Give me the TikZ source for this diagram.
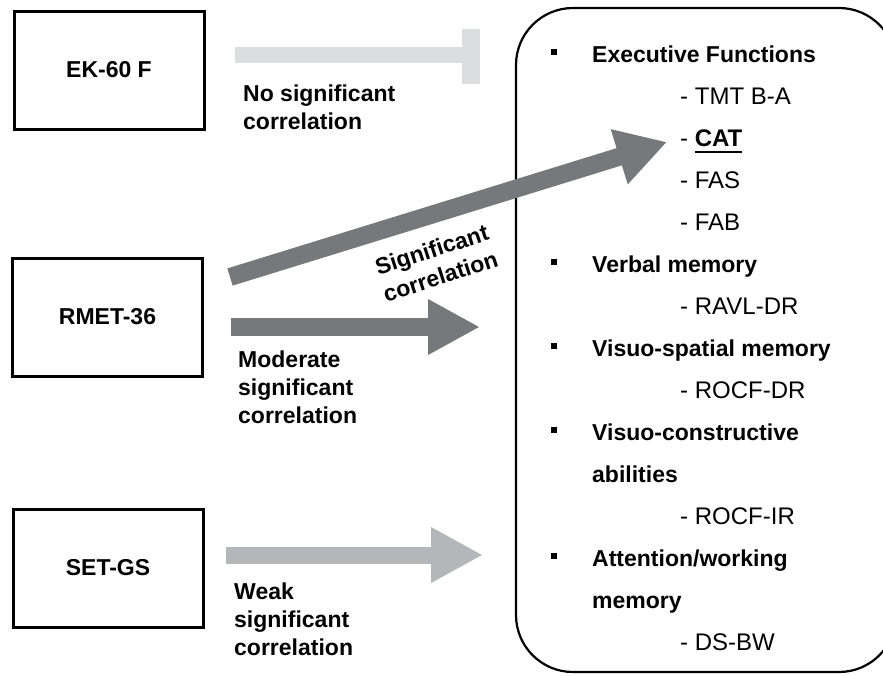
\documentclass[tikz,border=0pt]{standalone}
\usepackage{fontspec}
\setmainfont{Liberation Sans}
\usetikzlibrary{arrows.meta,math}

\definecolor{nosig}{HTML}{DCDDDF}
\definecolor{sigdark}{HTML}{77787B}
\definecolor{siglight}{HTML}{B5B6B9}

\newcommand{\bfs}{\fontsize{23}{28}\selectfont\bfseries}
\newcommand{\rgs}{\fontsize{24}{28}\selectfont}
\newcommand{\ulword}[1]{\setbox0\hbox{#1}\rlap{\rule[-7pt]{\wd0}{2.5pt}}\box0}

\tikzset{
  testbox/.style={draw, line width=3pt, minimum width=190pt, minimum height=118pt, font=\bfs},
  corrlabel/.style={anchor=north west, inner sep=0pt, align=left, font=\bfs},
  domhead/.style={anchor=base west, inner sep=0pt, font=\bfs},
  subtest/.style={anchor=base west, inner sep=0pt, font=\rgs},
  corrarrow/.style={line width=18pt, -{Triangle[length=52pt,width=52pt]}},
}

\begin{document}
\begin{tikzpicture}[x=1pt,y=-1pt]

\tikzmath{
\lh = 42;
\first = 62;
}

\useasboundingbox (0,0) rectangle (883,675);
\clip (0,0) rectangle (883,675);

% tests
\node[testbox] (ek) at (109,70) {EK-60 F};
\node[testbox] (rmet) at (107.5,317) {RMET-36};
\node[testbox] (set) at (108,568) {SET-GS};

% domains box
\node[draw, line width=2.2pt, rounded corners=57pt, minimum width=380pt, minimum height=664pt] (domains) at (706,340) {};

% bullets
\fill (551,{\first+0*\lh-13}) rectangle ++(6,6);
\fill (551,{\first+5*\lh-13}) rectangle ++(6,6);
\fill (551,{\first+7*\lh-13}) rectangle ++(6,6);
\fill (551,{\first+9*\lh-13}) rectangle ++(6,6);
\fill (551,{\first+12*\lh-13}) rectangle ++(6,6);

\node[domhead] (exec) at (592,{\first+0*\lh}) {Executive Functions};
\node[subtest] (tmt) at (680,{\first+1*\lh}) {- TMT B-A};
\node[subtest] (cat) at (680,{\first+2*\lh}) {- \textbf{\ulword{CAT}}};
\node[subtest] (fas) at (680,{\first+3*\lh}) {- FAS};
\node[subtest] (fab) at (680,{\first+4*\lh}) {- FAB};
\node[domhead] (verbal) at (592,{\first+5*\lh}) {Verbal memory};
\node[subtest] (ravl) at (680,{\first+6*\lh}) {- RAVL-DR};
\node[domhead] (visp) at (592,{\first+7*\lh}) {Visuo-spatial memory};
\node[subtest] (rocfdr) at (680,{\first+8*\lh}) {- ROCF-DR};
\node[domhead] (viscon) at (592,{\first+9*\lh}) {Visuo-constructive};
\node[domhead] (viscon2) at (592,{\first+10*\lh}) {abilities};
\node[subtest] (rocfir) at (680,{\first+11*\lh}) {- ROCF-IR};
\node[domhead] (attn) at (592,{\first+12*\lh}) {Attention/working};
\node[domhead] (attn2) at (592,{\first+13*\lh}) {memory};
\node[subtest] (dsbw) at (680,{\first+14*\lh}) {- DS-BW};

% connectors
\coordinate (ekA) at (235,55);
\coordinate (ekB) at (462,55);
\coordinate (rmA) at (230,277);
\coordinate (catTip) at (667,142);
\coordinate (rmB) at (231,327);
\coordinate (rmTip) at (480,327);
\coordinate (setA) at (226,555);
\coordinate (setTip) at (483,555);

\draw[line width=16pt, nosig] (ekA) -- (ekB);
\fill[nosig] (ekB) ++(0,-26) rectangle ++(18,55);
\draw[corrarrow, sigdark, -{Triangle[length=50pt,width=54pt]}] (rmA) -- (catTip);
\draw[corrarrow, sigdark] (rmB) -- (rmTip);
\draw[corrarrow, siglight, line width=17pt] (setA) -- (setTip);

% labels
\node[corrlabel] (nolab) at (243,85) {No significant\\correlation};
\node[font=\bfs, align=center, rotate=18] (siglab) at (436,263) {Significant\\correlation};
\node[corrlabel] (modlab) at (238,351) {Moderate\\significant\\correlation};
\node[corrlabel] (weaklab) at (234,583) {Weak\\significant\\correlation};

\end{tikzpicture}
\end{document}
